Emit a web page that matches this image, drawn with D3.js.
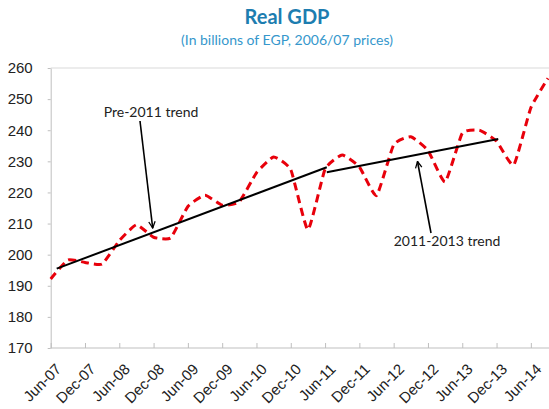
<!DOCTYPE html>
<html>
<head>
<meta charset="utf-8">
<script src="https://cdn.jsdelivr.net/npm/d3@7"></script>
<style>
  body { margin: 0; background: #fff; }
  svg { display: block; font-family: Lato, "Open Sans", sans-serif; }
</style>
</head>
<body>
<svg id="chart" width="549" height="409"></svg>
<script>
// quarterly categories, Jun-07 .. Sep-14
const quarters = [
  "Jun-07", "Sep-07", "Dec-07", "Mar-08", "Jun-08", "Sep-08", "Dec-08", "Mar-09",
  "Jun-09", "Sep-09", "Dec-09", "Mar-10", "Jun-10", "Sep-10", "Dec-10", "Mar-11",
  "Jun-11", "Sep-11", "Dec-11", "Mar-12", "Jun-12", "Sep-12", "Dec-12", "Mar-13",
  "Jun-13", "Sep-13", "Dec-13", "Mar-14", "Jun-14", "Sep-14"
];
const gdp = [
  192.2, 198.3, 197.5, 197.0, 204.5, 209.6, 205.6, 205.4,
  215.5, 219.1, 215.9, 217.0, 226.3, 231.4, 227.3, 208.0,
  227.5, 232.0, 228.2, 219.0, 235.3, 237.9, 233.5, 223.4,
  239.0, 240.0, 236.5, 228.8, 247.2, 256.7
];
const yTicks = [170, 180, 190, 200, 210, 220, 230, 240, 250, 260];

// trend lines: [quarter position, value]
const pre2011Trend = [[0.35, 195.5], [16.1, 228.1]];
const trend2011_2013 = [[16.1, 226.5], [26.1, 237.2]];

const svg = d3.select("#chart");
const plotLeft = 50.7, plotRight = 548, plotTop = 68, plotBottom = 348;

const x = d3.scaleLinear().domain([0, quarters.length - 1]).range([plotLeft, plotRight]);
const y = d3.scaleLinear().domain([170, 260]).range([plotBottom, plotTop]);

// title
svg.append("text")
  .attr("x", 287).attr("y", 24)
  .attr("text-anchor", "middle")
  .style("font-size", "20px").style("font-weight", "bold")
  .attr("fill", "#1d7db0")
  .text("Real GDP");

svg.append("text")
  .attr("x", 287).attr("y", 45)
  .attr("text-anchor", "middle")
  .style("font-size", "14px")
  .attr("fill", "#3597cc")
  .text("(In billions of EGP, 2006/07 prices)");

// top line at 260
svg.append("line")
  .attr("x1", plotLeft).attr("x2", 549)
  .attr("y1", y(260)).attr("y2", y(260))
  .attr("stroke", "#d9d9d9");

// y axis
const yAxis = svg.append("g")
  .attr("transform", `translate(${plotLeft},0)`)
  .call(d3.axisLeft(y).tickValues(yTicks).tickSize(3).tickSizeOuter(0).tickPadding(15));
yAxis.selectAll("text").style("font-size", "15px").attr("fill", "#222");

// x axis
const evenIdx = d3.range(0, quarters.length, 2);
const xAxis = svg.append("g")
  .attr("transform", `translate(0,${plotBottom})`)
  .call(d3.axisBottom(x).tickValues(evenIdx).tickFormat(i => quarters[i]).tickSize(-5).tickSizeOuter(0));
xAxis.select(".domain").attr("d", `M${plotLeft},0H549`);
xAxis.selectAll("text")
  .style("font-size", "15px")
  .attr("fill", "#222")
  .attr("text-anchor", "end")
  .attr("x", 0).attr("y", 0).attr("dy", 0)
  .attr("transform", "translate(11,22) rotate(-45)");

svg.selectAll(".domain, .tick line").attr("stroke", "#bfbfbf");

// GDP line
const line = d3.line()
  .x((d, i) => x(i))
  .y(d => y(d))
  .curve(d3.curveCardinal.tension(0.55));

svg.append("path")
  .datum(gdp)
  .attr("d", line)
  .attr("fill", "none")
  .attr("stroke", "#e8000b")
  .attr("stroke-width", 3)
  .attr("stroke-dasharray", "8,5");

// trend lines
const trendLine = d3.line().x(d => x(d[0])).y(d => y(d[1]));
[pre2011Trend, trend2011_2013].forEach(t => {
  svg.append("path")
    .attr("d", trendLine(t))
    .attr("fill", "none")
    .attr("stroke", "#000")
    .attr("stroke-width", 2);
});

// arrows
svg.append("defs").append("marker")
  .attr("id", "arrow")
  .attr("viewBox", "0 0 10 10")
  .attr("refX", 9).attr("refY", 5)
  .attr("markerWidth", 5).attr("markerHeight", 5)
  .attr("orient", "auto")
  .append("path")
  .attr("d", "M1,1L9,5L1,9")
  .attr("fill", "none")
  .attr("stroke", "#000")
  .attr("stroke-width", 1.6);

function arrow(x1, y1, x2, y2) {
  svg.append("line")
    .attr("x1", x1).attr("y1", y1)
    .attr("x2", x2).attr("y2", y2)
    .attr("stroke", "#000")
    .attr("stroke-width", 1.6)
    .attr("marker-end", "url(#arrow)");
}
arrow(140, 121, 152.7, 228);
arrow(431, 233, 417.5, 161.5);

svg.append("text")
  .attr("x", 151).attr("y", 117)
  .attr("text-anchor", "middle")
  .style("font-size", "14px")
  .attr("fill", "#222")
  .text("Pre-2011 trend");

svg.append("text")
  .attr("x", 447).attr("y", 246)
  .attr("text-anchor", "middle")
  .style("font-size", "14px")
  .attr("fill", "#222")
  .text("2011-2013 trend");
</script>
</body>
</html>
